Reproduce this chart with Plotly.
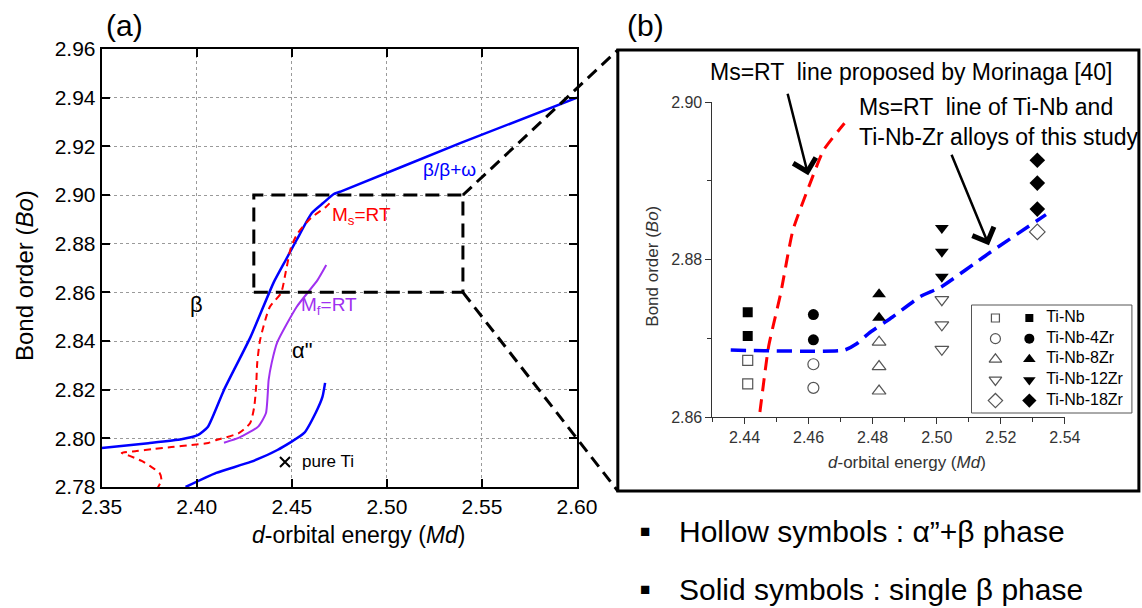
import plotly.graph_objects as go

W, H = 1142, 608
M = 30  # uniform page margin (pixels)

# ---------------- Panel (a) data ----------------
beta_x = [2.350, 2.3745, 2.3919, 2.4007, 2.4059, 2.4143, 2.4283, 2.4404, 2.4468, 2.4525,
          2.4605, 2.4665, 2.4721, 2.4766, 2.5389, 2.600]
beta_y = [2.7960, 2.7980, 2.7996, 2.8014, 2.8048, 2.8199, 2.8417, 2.8640, 2.8733, 2.8815,
          2.8926, 2.8967, 2.9004, 2.9017, 2.9214, 2.9400]

ms_a_x = [2.3788, 2.3814, 2.3804, 2.3762, 2.3710, 2.3647, 2.3605, 2.3683, 2.3773, 2.3867,
          2.3972, 2.4061, 2.4103, 2.4223, 2.4281, 2.4302, 2.4312, 2.4318, 2.4333, 2.4384,
          2.4443, 2.4470, 2.4496, 2.4532, 2.4601, 2.4679, 2.4705]
ms_a_y = [2.7788, 2.7829, 2.7858, 2.7882, 2.7907, 2.7928, 2.7940, 2.7948, 2.7956, 2.7964,
          2.7973, 2.7981, 2.7993, 2.8022, 2.8063, 2.8129, 2.8211, 2.8310, 2.8404, 2.8540,
          2.8597, 2.8692, 2.8786, 2.8844, 2.8906, 2.8951, 2.8971]

mf_x = [2.4143, 2.4223, 2.4323, 2.4364, 2.4378, 2.4394, 2.4424, 2.4525, 2.4635, 2.4681]
mf_y = [2.7982, 2.8003, 2.8048, 2.8104, 2.8240, 2.8310, 2.8396, 2.8540, 2.8650, 2.8712]

alpha_x = [2.3941, 2.4102, 2.4283, 2.4424, 2.4565, 2.4625, 2.4661, 2.4675]
alpha_y = [2.7800, 2.7858, 2.7903, 2.7952, 2.8022, 2.8104, 2.8170, 2.8228]

pure_ti_x = [2.4464]
pure_ti_y = [2.7903]

zoom_x = [2.43, 2.54]
zoom_y = [2.86, 2.90]

# ---------------- Panel (b) data ----------------
ms_b_x = [2.4438, 2.4446, 2.4475, 2.4513, 2.4551, 2.4605, 2.4647, 2.4712]
ms_b_y = [2.8580, 2.8600, 2.8689, 2.8757, 2.8837, 2.8897, 2.8939, 2.8973]

study_x = [2.4357, 2.4712, 2.4750, 2.4787, 2.4862, 2.4949, 2.5013, 2.5163, 2.5341]
study_y = [2.8685, 2.8685, 2.8693, 2.8706, 2.8727, 2.8753, 2.8765, 2.8808, 2.8857]

alloys = ["Ti-Nb", "Ti-Nb-4Zr", "Ti-Nb-8Zr", "Ti-Nb-12Zr", "Ti-Nb-18Zr"]
alloy_md = [2.441, 2.4615, 2.482, 2.5016, 2.5314]
solid_bo = [[2.8733, 2.8703], [2.8730, 2.8698], [2.8756, 2.8726],
            [2.8840, 2.8810, 2.8778], [2.8926, 2.8897, 2.8864]]
hollow_bo = [[2.8672, 2.8642], [2.8667, 2.8637], [2.8695, 2.8664, 2.8633],
             [2.8749, 2.8717, 2.8686], [2.8835]]
symbols = ["square", "circle", "triangle-up", "triangle-down", "diamond"]
sizes = [10, 11, 12, 12, 12]
leg_sizes = [8, 10, 11, 11, 11]

FONT = "Liberation Sans, Arial, sans-serif"


def px(v):
    return (v - M) / (W - 2 * M)


def py(v):
    return 1 - (v - M) / (H - 2 * M)


# layout geometry (pixels -> paper fractions)
A_X = [px(100), px(577)]
A_Y = [py(487), py(49)]
B_X = [px(713), px(1066.7)]
B_Y = [py(417), py(102)]
L_X = [px(973), px(1100)]
L_Y = [py(413), py(305)]
A_XR = [2.35, 2.60]
A_YR = [2.78, 2.96]


def a_paper(x, y):
    xp = A_X[0] + (x - A_XR[0]) / (A_XR[1] - A_XR[0]) * (A_X[1] - A_X[0])
    yp = A_Y[0] + (y - A_YR[0]) / (A_YR[1] - A_YR[0]) * (A_Y[1] - A_Y[0])
    return xp, yp


fig = go.Figure()

BLUE = "#0000ff"
RED = "#ff0000"
PURPLE = "#a030f0"
GRID = "#9a9a9a"

# panel (a)
fig.add_trace(go.Scatter(x=beta_x, y=beta_y, mode="lines",
                         line=dict(color=BLUE, width=2.5, shape="spline", smoothing=0.5),
                         xaxis="x", yaxis="y", showlegend=False))
fig.add_trace(go.Scatter(x=ms_a_x, y=ms_a_y, mode="lines",
                         line=dict(color=RED, width=2, dash="7px,5px", shape="spline", smoothing=0.6),
                         xaxis="x", yaxis="y", showlegend=False))
fig.add_trace(go.Scatter(x=mf_x, y=mf_y, mode="lines",
                         line=dict(color=PURPLE, width=2, shape="spline", smoothing=0.5),
                         xaxis="x", yaxis="y", showlegend=False))
fig.add_trace(go.Scatter(x=alpha_x, y=alpha_y, mode="lines",
                         line=dict(color=BLUE, width=2.5, shape="spline", smoothing=0.5),
                         xaxis="x", yaxis="y", showlegend=False))
fig.add_trace(go.Scatter(x=pure_ti_x, y=pure_ti_y, mode="markers",
                         marker=dict(symbol="x-thin-open", size=10, color="black",
                                     line=dict(color="black", width=2)),
                         xaxis="x", yaxis="y", showlegend=False))

# panel (b)
fig.add_trace(go.Scatter(x=ms_b_x, y=ms_b_y, mode="lines",
                         line=dict(color=RED, width=3, dash="13px,8px", shape="spline", smoothing=0.5),
                         xaxis="x2", yaxis="y2", showlegend=False))
fig.add_trace(go.Scatter(x=study_x, y=study_y, mode="lines",
                         line=dict(color=BLUE, width=3.5, dash="15px,8px", shape="spline", smoothing=0.5),
                         xaxis="x2", yaxis="y2", showlegend=False))
for i, name in enumerate(alloys):
    fig.add_trace(go.Scatter(x=[alloy_md[i]] * len(hollow_bo[i]), y=hollow_bo[i], mode="markers",
                             marker=dict(symbol=symbols[i] + "-open", size=sizes[i], color="#555",
                                         line=dict(width=1.2, color="#555")),
                             xaxis="x2", yaxis="y2", showlegend=False))
    fig.add_trace(go.Scatter(x=[alloy_md[i]] * len(solid_bo[i]), y=solid_bo[i], mode="markers",
                             marker=dict(symbol=symbols[i], size=sizes[i], color="black"),
                             xaxis="x2", yaxis="y2", showlegend=False))

# custom legend (two symbols per row)
rows = list(range(len(alloys)))
for i in rows:
    fig.add_trace(go.Scatter(x=[0.189], y=[i], mode="markers",
                             marker=dict(symbol=symbols[i] + "-open", size=leg_sizes[i], color="#555",
                                         line=dict(width=1.2, color="#555")),
                             xaxis="x3", yaxis="y3", showlegend=False, cliponaxis=False))
    fig.add_trace(go.Scatter(x=[0.457], y=[i], mode="markers",
                             marker=dict(symbol=symbols[i], size=leg_sizes[i], color="black"),
                             xaxis="x3", yaxis="y3", showlegend=False, cliponaxis=False))
fig.add_trace(go.Scatter(x=[0.59] * len(alloys), y=rows, mode="text", text=alloys,
                         textposition="middle right", textfont=dict(size=16, color="black", family=FONT),
                         xaxis="x3", yaxis="y3", showlegend=False, cliponaxis=False))

axis_a = dict(showline=True, linecolor="black", linewidth=2, mirror="ticks", ticks="inside",
              ticklen=8, tickwidth=2, tickcolor="black", showgrid=True, gridcolor=GRID,
              griddash="dot", gridwidth=1, zeroline=False,
              tickformat=".2f", tickfont=dict(size=21, color="black", family=FONT))
axis_b = dict(showline=True, linecolor="#333", linewidth=1, ticks="outside", ticklen=6,
              tickwidth=1, tickcolor="#333", showgrid=False, zeroline=False, tickformat=".2f",
              tickfont=dict(size=16, color="#333", family=FONT),
              minor=dict(ticks="outside", ticklen=4, tickcolor="#333", dtick=0.01))

fig.update_layout(
    width=W, height=H, margin=dict(l=M, r=M, t=M, b=M),
    paper_bgcolor="white", plot_bgcolor="rgba(0,0,0,0)",
    font=dict(family=FONT, color="black"),
    xaxis=dict(axis_a, domain=A_X, range=A_XR, dtick=0.05, tick0=2.35, anchor="y"),
    yaxis=dict(axis_a, domain=A_Y, range=A_YR, dtick=0.02, tick0=2.78, anchor="x"),
    xaxis2=dict(axis_b, domain=B_X, range=[2.43, 2.54], dtick=0.02, tick0=2.44, anchor="y2"),
    yaxis2=dict(axis_b, domain=B_Y, range=[2.86, 2.90], dtick=0.02, tick0=2.86, anchor="x2"),
    xaxis3=dict(domain=L_X, range=[0, 1], anchor="y3", visible=False),
    yaxis3=dict(domain=L_Y, range=[4.6, -0.63], anchor="x3", visible=False),
)

# shapes: zoom rectangle, connectors, panel (b) frame, legend frame
fig.add_shape(type="rect", xref="x", yref="y", x0=zoom_x[0], x1=zoom_x[1], y0=zoom_y[0], y1=zoom_y[1],
              line=dict(color="black", width=3, dash="14px,8px"), fillcolor="rgba(0,0,0,0)")
c_top = a_paper(zoom_x[1], zoom_y[1])
c_bot = a_paper(zoom_x[1], zoom_y[0])
BOX = [px(618), py(491), px(1141), py(50)]
fig.add_shape(type="line", xref="paper", yref="paper", x0=c_top[0], y0=c_top[1], x1=BOX[0], y1=BOX[3],
              line=dict(color="black", width=3, dash="12px,7px"))
fig.add_shape(type="line", xref="paper", yref="paper", x0=c_bot[0], y0=c_bot[1], x1=BOX[0], y1=BOX[1],
              line=dict(color="black", width=3, dash="12px,7px"))
fig.add_shape(type="rect", xref="paper", yref="paper", x0=BOX[0], y0=BOX[1], x1=BOX[2], y1=BOX[3],
              line=dict(color="black", width=3), fillcolor="rgba(0,0,0,0)")
fig.add_shape(type="rect", xref="paper", yref="paper", x0=px(973), y0=py(413), x1=px(1134), y1=py(305),
              line=dict(color="#555", width=1), fillcolor="rgba(0,0,0,0)")

ann = []


def t(text, x, y, size, color="black", xref="paper", yref="paper", xanchor="center", angle=0):
    ann.append(dict(text=text, x=x, y=y, xref=xref, yref=yref, showarrow=False, xanchor=xanchor,
                    yanchor="middle", textangle=angle, font=dict(size=size, color=color, family=FONT)))


# panel (a) text
t("(a)", px(123), py(25), 30)
t("(b)", px(646), py(25), 30)
t("Bond order (<i>Bo</i>)", px(22), py(276), 24, angle=-90)
t("<i>d</i>-orbital energy (<i>Md</i>)", px(358), py(535), 23)
t("β/β+ω", 2.533, 2.9103, 19, BLUE, "x", "y")
t("M<sub>s</sub>=RT", 2.4866, 2.8912, 19, RED, "x", "y")
t("M<sub>f</sub>=RT", 2.4695, 2.8542, 19, PURPLE, "x", "y")
t("β", 2.400, 2.855, 22, "black", "x", "y")
t("α\"", 2.4555, 2.8363, 22, "black", "x", "y")
t("pure Ti", 2.4543, 2.7903, 17, "black", "x", "y", xanchor="left")

# panel (b) text
t("Bond order (<i>Bo</i>)", px(652), py(266), 17, "#333", angle=-90)
t("<i>d</i>-orbital energy (<i>Md</i>)", px(908), py(462), 17, "#333")
t("Ms=RT  line proposed by Morinaga [40]", px(913), py(72), 23)
t("Ms=RT  line of Ti-Nb and", px(858), py(107), 23, xanchor="left")
t("Ti-Nb-Zr alloys of this study", px(858), py(137), 23, xanchor="left")

# bottom notes
t("■", px(645), py(531), 17)
t("■", px(645), py(589), 17)
t("Hollow symbols : α”+β phase", px(677), py(531), 30, xanchor="left")
t("Solid symbols : single β phase", px(677), py(589), 30, xanchor="left")

# arrows
ann.append(dict(x=2.4599, y=2.8907, xref="x2", yref="y2", ax=-21, ay=-83, text="", showarrow=True,
                arrowhead=4, arrowsize=1.8, arrowwidth=2.5, arrowcolor="black"))
ann.append(dict(x=2.5163, y=2.8818, xref="x2", yref="y2", ax=-38, ay=-92, text="", showarrow=True,
                arrowhead=4, arrowsize=1.8, arrowwidth=2.5, arrowcolor="black"))

fig.update_layout(annotations=ann)

fig.write_html("out.html")
